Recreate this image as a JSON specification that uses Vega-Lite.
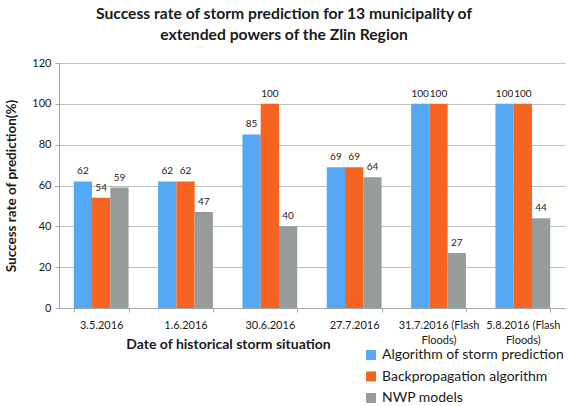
{
  "$schema": "https://vega.github.io/schema/vega-lite/v6.json",
  "autosize": {"type": "none"},
  "width": 506,
  "height": 245,
  "padding": {"left": 59, "top": 63, "right": 3, "bottom": 98},
  "background": "white",
  "title": {
    "text": ["Success rate of storm prediction for 13 municipality of", "extended powers of the Zlin Region"],
    "fontSize": 15.7,
    "fontWeight": "bold",
    "font": "Lato",
    "color": "#1a1a1a",
    "anchor": "middle",
    "dx": -28,
    "offset": 13,
    "lineHeight": 21
  },
  "data": {
    "values": [
      {"date": "3.5.2016", "method": "Algorithm of storm prediction", "value": 62},
      {"date": "3.5.2016", "method": "Backpropagation algorithm", "value": 54},
      {"date": "3.5.2016", "method": "NWP models", "value": 59},
      {"date": "1.6.2016", "method": "Algorithm of storm prediction", "value": 62},
      {"date": "1.6.2016", "method": "Backpropagation algorithm", "value": 62},
      {"date": "1.6.2016", "method": "NWP models", "value": 47},
      {"date": "30.6.2016", "method": "Algorithm of storm prediction", "value": 85},
      {"date": "30.6.2016", "method": "Backpropagation algorithm", "value": 100},
      {"date": "30.6.2016", "method": "NWP models", "value": 40},
      {"date": "27.7.2016", "method": "Algorithm of storm prediction", "value": 69},
      {"date": "27.7.2016", "method": "Backpropagation algorithm", "value": 69},
      {"date": "27.7.2016", "method": "NWP models", "value": 64},
      {"date": "31.7.2016 (Flash Floods)", "method": "Algorithm of storm prediction", "value": 100},
      {"date": "31.7.2016 (Flash Floods)", "method": "Backpropagation algorithm", "value": 100},
      {"date": "31.7.2016 (Flash Floods)", "method": "NWP models", "value": 27},
      {"date": "5.8.2016 (Flash Floods)", "method": "Algorithm of storm prediction", "value": 100},
      {"date": "5.8.2016 (Flash Floods)", "method": "Backpropagation algorithm", "value": 100},
      {"date": "5.8.2016 (Flash Floods)", "method": "NWP models", "value": 44}
    ]
  },
  "encoding": {
    "x": {
      "field": "date",
      "type": "nominal",
      "sort": null,
      "scale": {"paddingInner": 0.35, "paddingOuter": 0.175},
      "axis": {
        "title": "Date of historical storm situation",
        "titleFontSize": 14,
        "titleFontWeight": "bold",
        "titleColor": "#1a1a1a",
        "titleX": 169,
        "titleY": 40,
        "titleAnchor": null,
        "titleAlign": "center",
        "titleBaseline": "alphabetic",
        "labelAngle": 0,
        "labelFontSize": 11,
        "labelColor": "#1a1a1a",
        "labelPadding": 7,
        "labelLineHeight": 15,
        "labelExpr": "split(replace(datum.label, ' Floods', '|Floods'), '|')",
        "tickBand": "extent",
        "tickSize": 4,
        "tickColor": "#A0A8A8",
        "domainColor": "#A0A8A8",
        "grid": false
      }
    },
    "xOffset": {"field": "method", "type": "nominal", "sort": null, "scale": {"paddingInner": 0, "paddingOuter": 0}},
    "y": {
      "field": "value",
      "type": "quantitative",
      "scale": {"domain": [0, 120]},
      "axis": {
        "title": "Success rate of prediction(%)",
        "titleFontSize": 13.5,
        "titleFontWeight": "bold",
        "titleColor": "#1a1a1a",
        "titlePadding": 13,
        "values": [0, 20, 40, 60, 80, 100, 120],
        "labelFontSize": 11,
        "labelColor": "#1a1a1a",
        "labelPadding": 4,
        "tickSize": 4,
        "tickColor": "#A0A8A8",
        "domainColor": "#A0A8A8",
        "gridColor": "#B8C0C0",
        "gridWidth": 1
      }
    }
  },
  "layer": [
    {
      "mark": {"type": "bar"},
      "encoding": {
        "color": {
          "field": "method",
          "type": "nominal",
          "sort": null,
          "scale": {
            "domain": ["Algorithm of storm prediction", "Backpropagation algorithm", "NWP models"],
            "range": ["#55A8F5", "#F76321", "#969B9B"]
          },
          "legend": {
            "title": null,
            "orient": "none",
            "legendX": 305,
            "legendY": 285,
            "symbolType": "square",
            "symbolSize": 100,
            "symbolStrokeWidth": 0,
            "labelFontSize": 14,
            "labelColor": "#1a1a1a",
            "labelOffset": 4,
            "labelLimit": 300,
            "rowPadding": 7.5
          }
        }
      }
    },
    {
      "mark": {"type": "text", "baseline": "alphabetic", "dy": -7, "fontSize": 10, "color": "#1a1a1a"},
      "encoding": {"text": {"field": "value", "type": "quantitative"}}
    }
  ],
  "config": {
    "font": "Lato",
    "view": {"stroke": null}
  }
}
